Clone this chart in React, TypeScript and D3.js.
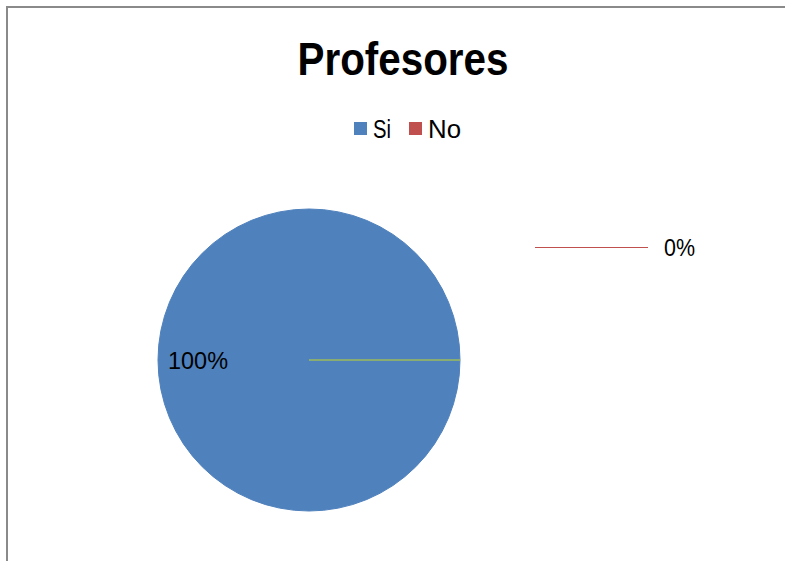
import React from "react";
import * as d3 from "d3";

const categories = ["Si", "No"];
const values = [100, 0];
const colors = ["#4F81BD", "#C0504D"];
const percentLabels = ["100%", "0%"];
const title = "Profesores";

export default function App() {
  const W = 785, H = 561;
  const cx = 309, cy = 360, r = 151;
  const pie = d3.pie<number>().sort(null).startAngle(Math.PI / 2).endAngle(Math.PI / 2 + 2 * Math.PI);
  const arcs = pie(values);
  const arc = d3.arc<d3.PieArcDatum<number>>().innerRadius(0).outerRadius(r);
  const font = "'Liberation Sans', Arial, sans-serif";
  const zeroAngle = arcs[1].startAngle;
  const lx = cx + r * Math.sin(zeroAngle);
  const ly = cy - r * Math.cos(zeroAngle);
  return (
    <div style={{ position: "absolute", left: 0, top: 0 }}>
      <svg width={W} height={H} style={{ display: "block", background: "#fff" }}>
        <rect x={7} y={7} width={W + 20} height={H + 20} fill="#fff" stroke="#8a8a8a" strokeWidth={2} />
        <text x={403} y={75} textAnchor="middle" fontFamily={font} fontWeight="bold" fontSize={46} textLength={211} lengthAdjust="spacingAndGlyphs" fill="#000">{title}</text>
        {categories.map((c, i) => {
          const xs = [354, 409][i];
          return (
            <g key={c}>
              <rect x={xs} y={122} width={13} height={13} fill={colors[i]} />
              <text x={xs + 19} y={138} fontFamily={font} fontSize={25} fill="#000" textLength={i === 0 ? 18 : 33} lengthAdjust="spacingAndGlyphs">{c}</text>
            </g>
          );
        })}
        <g transform={`translate(${cx},${cy})`}>
          {arcs.map((a, i) => (
            <path key={i} d={arc(a) || ""} fill={colors[i]} stroke={i === 1 ? "none" : colors[i]} strokeWidth={1} />
          ))}
        </g>
        <line x1={cx} y1={cy} x2={lx} y2={ly} stroke="#9BBB59" strokeWidth={1.5} />
        <text x={168} y={369} fontFamily={font} fontSize={24} fill="#000" textLength={60} lengthAdjust="spacingAndGlyphs">{percentLabels[0]}</text>
        <line x1={535} y1={247.5} x2={648} y2={247.5} stroke={colors[1]} strokeWidth={1} />
        <text x={664} y={256} fontFamily={font} fontSize={24} fill="#000" textLength={31} lengthAdjust="spacingAndGlyphs">{percentLabels[1]}</text>
      </svg>
    </div>
  );
}
